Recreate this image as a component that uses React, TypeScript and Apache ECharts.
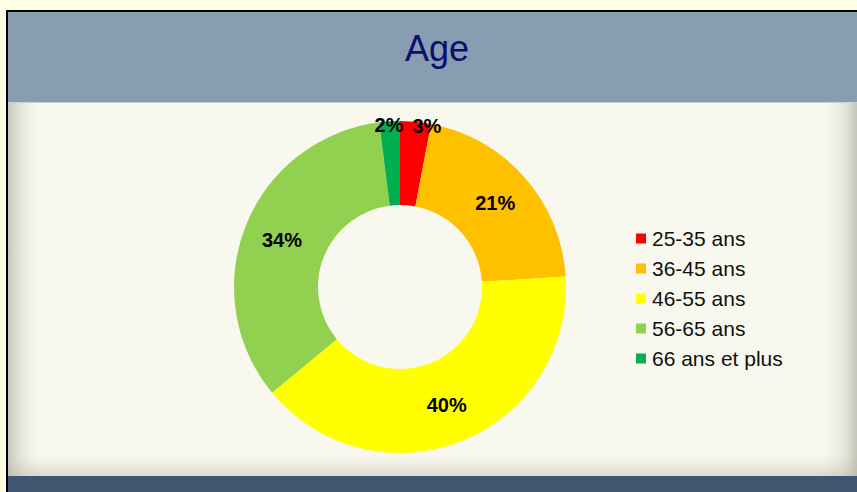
import React, { useEffect, useRef } from "react";
import * as echarts from "echarts";

const categories = ["25-35 ans", "36-45 ans", "46-55 ans", "56-65 ans", "66 ans et plus"];
const values = [3, 21, 40, 34, 2];
const colors = ["#ff0000", "#ffc000", "#ffff00", "#92d050", "#00b050"];
const labelShiftX = [15, 0, 0, 0, -3];
const labelShiftY = [-35, 0, 0, 0, -35];
const titleText = "Age";

const FONT = "'Liberation Sans', Arial, Helvetica, sans-serif";

export default function App() {
  const ref = useRef<HTMLDivElement>(null);
  useEffect(() => {
    if (!ref.current) return;
    const chart = echarts.init(ref.current, null, { renderer: "svg" });
    const W = 857;
    const H = 492;
    chart.setOption({
      animation: false,
      graphic: [
        { type: "rect", z: -10, silent: true, shape: { x: 0, y: 0, width: W, height: H }, style: { fill: "#fefee6" } },
        { type: "rect", z: -9, silent: true, shape: { x: 6, y: 10, width: W, height: H }, style: { fill: "#000000" } },
        { type: "rect", z: -8, silent: true, shape: { x: 8, y: 12, width: W, height: 91 }, style: { fill: "#879db2" } },
        { type: "rect", z: -8, silent: true, shape: { x: 8, y: 102, width: W, height: 1 }, style: { fill: "#c9d2da" } },
        { type: "rect", z: -8, silent: true, shape: { x: 8, y: 103, width: W, height: 373 }, style: { fill: "#f8f8ef" } },
        {
          type: "rect", z: -7, silent: true, shape: { x: 8, y: 103, width: 36, height: 373 },
          style: { fill: new echarts.graphic.LinearGradient(0, 0, 1, 0, [
            { offset: 0, color: "rgba(150,150,135,0.5)" },
            { offset: 0.35, color: "rgba(190,190,175,0.35)" },
            { offset: 1, color: "rgba(248,248,239,0)" },
          ]) },
        },
        {
          type: "rect", z: -7, silent: true, shape: { x: 815, y: 103, width: 42, height: 373 },
          style: { fill: new echarts.graphic.LinearGradient(0, 0, 1, 0, [
            { offset: 0, color: "rgba(248,248,239,0)" },
            { offset: 0.7, color: "rgba(200,200,185,0.4)" },
            { offset: 1, color: "rgba(160,160,145,0.6)" },
          ]) },
        },
        {
          type: "rect", z: -7, silent: true, shape: { x: 8, y: 455, width: W, height: 21 },
          style: { fill: new echarts.graphic.LinearGradient(0, 0, 0, 1, [
            { offset: 0, color: "rgba(200,200,180,0)" },
            { offset: 1, color: "rgba(180,180,165,0.45)" },
          ]) },
        },
        { type: "rect", z: -6, silent: true, shape: { x: 8, y: 476, width: W, height: 16 }, style: { fill: "#3f5670" } },
        {
          type: "text", z: 5, x: 437, y: 48,
          style: { text: titleText, fill: "#0d0d6b", font: `36px ${FONT}`, align: "center", verticalAlign: "middle" },
        },
      ],
      legend: {
        orient: "vertical",
        left: 636,
        top: 228,
        padding: 0,
        icon: "rect",
        itemWidth: 10,
        itemHeight: 10,
        itemGap: 9,
        selectedMode: false,
        data: categories,
        textStyle: { fontSize: 21, lineHeight: 21, color: "#111111", fontFamily: FONT, padding: [0, 0, 0, 1] },
      },
      series: [
        {
          type: "pie",
          center: [400, 287],
          radius: [82, 166],
          startAngle: 90,
          clockwise: true,
          avoidLabelOverlap: false,
          itemStyle: { borderWidth: 0 },
          label: {
            show: true,
            position: "inside",
            formatter: "{c}%",
            fontSize: 20,
            fontWeight: "bold",
            color: "#000000",
            fontFamily: FONT,
          },
          labelLine: { show: false },
          labelLayout: (params: any) => ({
            dx: labelShiftX[params.dataIndex],
            dy: labelShiftY[params.dataIndex],
          }),
          emphasis: { disabled: true },
          data: categories.map((name, i) => ({
            name,
            value: values[i],
            itemStyle: { color: colors[i] },
          })),
        },
      ],
    });
    return () => chart.dispose();
  }, []);
  return <div ref={ref} style={{ position: "absolute", left: 0, top: 0, width: 857, height: 492 }} />;
}
